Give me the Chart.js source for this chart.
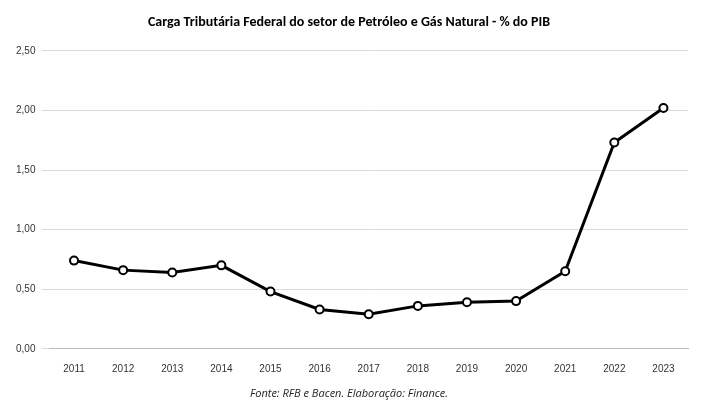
<!DOCTYPE html>
<html><head><meta charset="utf-8">
<script src="https://cdn.jsdelivr.net/npm/chart.js@4"></script>
<style>body{margin:0;background:#fff}#w{width:710px;height:420px}</style>
</head><body><div id="w"><canvas id="c"></canvas></div>
<script>
const years=['2011','2012','2013','2014','2015','2016','2017','2018','2019','2020','2021','2022','2023'];
const values=[0.74,0.66,0.64,0.70,0.48,0.33,0.29,0.36,0.39,0.40,0.65,1.73,2.02];
const titleText='Carga Tributária Federal do setor de Petróleo e Gás Natural - % do PIB';
const sourceText='Fonte: RFB e Bacen. Elaboração: Finance.';
new Chart(document.getElementById('c'),{
type:'line',
data:{labels:years,datasets:[{data:values,borderColor:'#000',borderWidth:3,pointRadius:4,pointBorderWidth:2,pointBackgroundColor:'#fff',pointBorderColor:'#000',tension:0}]},
options:{responsive:true,maintainAspectRatio:false,animation:false,
layout:{padding:{left:10,right:22,top:6,bottom:16}},
plugins:{legend:{display:false},
title:{display:true,text:titleText,font:{family:'Calibri, Carlito, "Open Sans", sans-serif',size:14,weight:'bold'},color:'#000',padding:{top:8,bottom:20}},
subtitle:{display:true,position:'bottom',text:sourceText,font:{family:'"Open Sans", sans-serif',size:11,style:'italic'},color:'#222',padding:{top:6,bottom:4}}},
scales:{x:{offset:true,grid:{display:false},border:{color:'#bbb'},ticks:{color:'#333',font:{size:10},padding:6}},
y:{min:0,max:2.5,ticks:{stepSize:0.5,color:'#333',font:{size:10},padding:6,callback:v=>v.toFixed(2).replace('.',',')},grid:{color:'#d9d9d9'},border:{display:false}}}}
});
</script></body></html>
